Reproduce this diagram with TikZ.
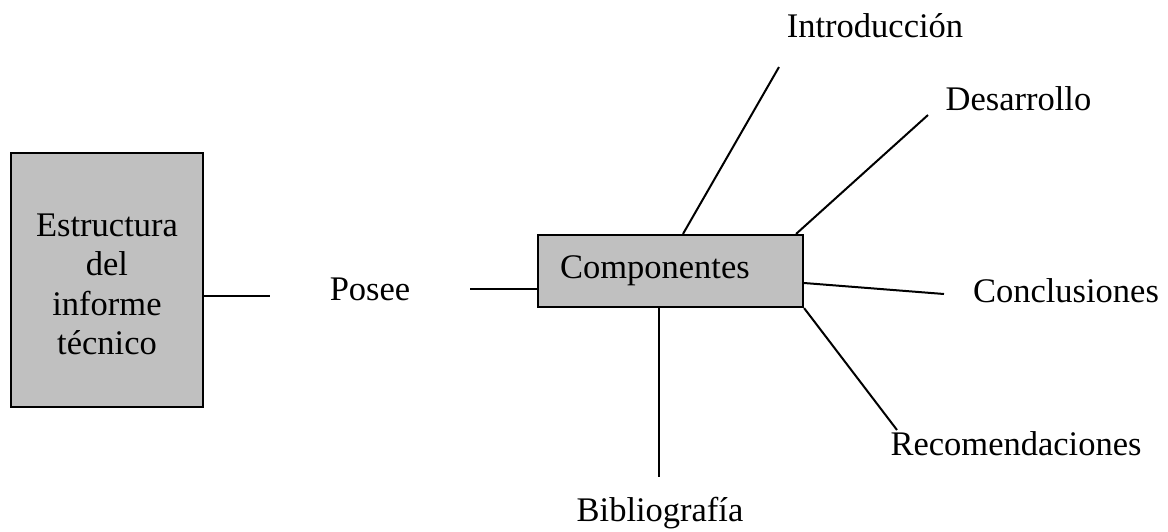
\documentclass[tikz,border=0pt]{standalone}
\usepackage{fontspec}
\setmainfont{Liberation Serif}
\usepackage{tikz}
\definecolor{boxgray}{HTML}{C0C0C0}
\tikzstyle{caja}=[
        draw=black,
        fill=boxgray,
        line width=2.2pt,
        inner sep=0pt
]
\tikzstyle{rama}=[
        line width=2pt
]
\tikzstyle{texto}=[
        font=\fontsize{34.5}{39.3}\selectfont,
        inner sep=0pt
]

\begin{document}
\begin{tikzpicture}[x=1pt,y=-1pt]
                        \useasboundingbox (0,0) rectangle (1168,531);

                        \node[caja,texto,minimum width=192pt,minimum height=254pt,align=center,text height=149pt] (estructura) at (107,280) {Estructura\\del\\informe\\t\'ecnico};
                        \node[caja,texto,minimum height=72pt,text width=221pt,inner xsep=22pt,align=left] (componentes) at (670.5,271) {Componentes};

                        \node[texto,anchor=base,inner xsep=60pt] (posee) at (370,300) {Posee};
                        \node[texto,anchor=base] (intro) at (875,37) {Introducci\'on};
                        \node[texto,anchor=base] (desarrollo) at (1018.5,110) {Desarrollo};
                        \node[texto,anchor=base] (conclusiones) at (1066,302) {Conclusiones};
                        \node[texto,anchor=base] (recomendaciones) at (1016,455) {Recomendaciones};
                        \node[texto,anchor=base] (biblio) at (660,521) {Bibliograf\'ia};

                        \coordinate (introfin) at (779,67);
                        \coordinate (desarrollofin) at (928,115);
                        \coordinate (conclusionesfin) at (944,294);
                        \coordinate (recomendacionesfin) at (897,430);
                        \coordinate (bibliofin) at (659,477);

                        \draw[rama] ([yshift=-16pt]estructura.east) -- ([yshift=-16pt]estructura.east -| posee.west);
                        \draw[rama] (posee.east) -- (posee.east -| componentes.west);

                        \draw[rama] ([xshift=12.5pt]componentes.north) -- (introfin);
                        \draw[rama] ([xshift=-8pt]componentes.north east) -- (desarrollofin);
                        \draw[rama] ([yshift=-12pt]componentes.east) -- (conclusionesfin);
                        \draw[rama] (componentes.south east) -- (recomendacionesfin);
                        \draw[rama] (componentes.south -| bibliofin) -- (bibliofin);
                        
                    \end{tikzpicture}
\end{document}
